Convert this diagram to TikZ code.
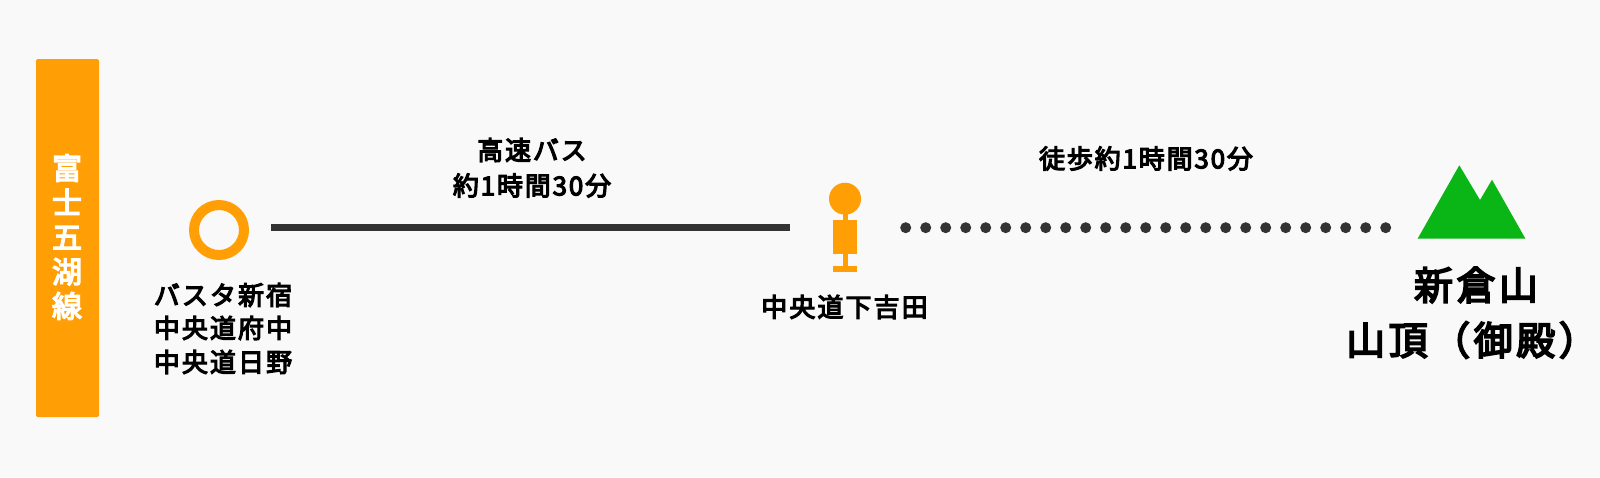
\documentclass[tikz,border=0pt]{standalone}
\usepackage{fontspec}
\usetikzlibrary{calc}
\setmainfont{Noto Sans CJK JP}
\newfontfamily\jpa[LetterSpace=8,FakeBold=4.5]{Noto Sans CJK JP}
\newfontfamily\jpb[LetterSpace=7,FakeBold=4.5]{Noto Sans CJK JP}
\newfontfamily\jpc[LetterSpace=9,FakeBold=4.5]{Noto Sans CJK JP}
\newfontfamily\jpd[FakeBold=4.5]{Noto Sans CJK JP}
\definecolor{bgc}{HTML}{F9F9F9}
\definecolor{org}{HTML}{FF9F05}
\definecolor{ink}{HTML}{333333}
\definecolor{grn}{HTML}{0AB516}
\tikzset{
  lab/.style={inner sep=0pt,text=black,anchor=center,font=\jpa\fontsize{26}{26}\selectfont},
  toplab/.style={inner sep=0pt,text=black,anchor=center,font=\jpb\fontsize{26}{26}\selectfont},
  biglab/.style={inner sep=0pt,text=black,anchor=center,font=\jpc\fontsize{39}{39}\selectfont},
  orangefill/.style={fill=org,draw=none},
}
\begin{document}
\begin{tikzpicture}[x=1pt,y=-1pt]
\useasboundingbox (0,0) rectangle (1600,477);
\fill[bgc] (0,0) rectangle (1600,477);
% side bar
\fill[org,rounded corners=1.5pt] (36,59) rectangle (99,417);
\node (barlabel) [inner sep=0pt,anchor=north,text=white,align=center,font=\jpd\fontsize{30}{34.5}\selectfont] at (67,154) {富\\士\\五\\湖\\線};
% start
\node (start) at (219,230) [circle,draw=org,line width=10pt,minimum size=50pt,inner sep=0pt] {};
\coordinate (lineA) at (271,227.5);
\node (stop) at (845,198.7) [circle,orangefill,minimum size=32pt,inner sep=0pt] {};
\fill[org] (842.5,210) rectangle (847.5,266);
\fill[org] (833,220) rectangle (857,254);
\fill[org] (833,266) rectangle (857,272);
\coordinate (lineB) at (790,227.5);
\draw[ink,line width=7.5pt] (lineA) -- (lineB);
% dotted
\coordinate (dotA) at (905.7,227.7);
\coordinate (dotB) at (1385.7,227.7);
\draw[ink,line width=11pt,line cap=round,dash pattern=on 0pt off 20pt] (dotA) -- ($(dotB)+(1,0)$);
% mountain
\fill[grn] (1417.7,238.5) -- (1459.3,165.3) -- (1480,200) -- (1492,179.7) -- (1525.3,238.5) -- cycle;
% labels
\node[lab] (l1) at (223,295) {バスタ新宿};
\node[lab] (l2) at (223,328) {中央道府中};
\node[lab] (l3) at (223,362) {中央道日野};
\node[lab] (l4) at (844.5,307) {中央道下吉田};
\node[toplab] (t1) at (532,150) {高速バス};
\node[toplab] (t2) at (532,185.5) {約1時間30分};
\node[toplab] (t3) at (1146,158.5) {徒歩約1時間30分};
\node[biglab] (b1) at (1476,285) {新倉山};
\node[biglab] (b2) at (1472,340) {山頂（御殿）};
\end{tikzpicture}
\end{document}
